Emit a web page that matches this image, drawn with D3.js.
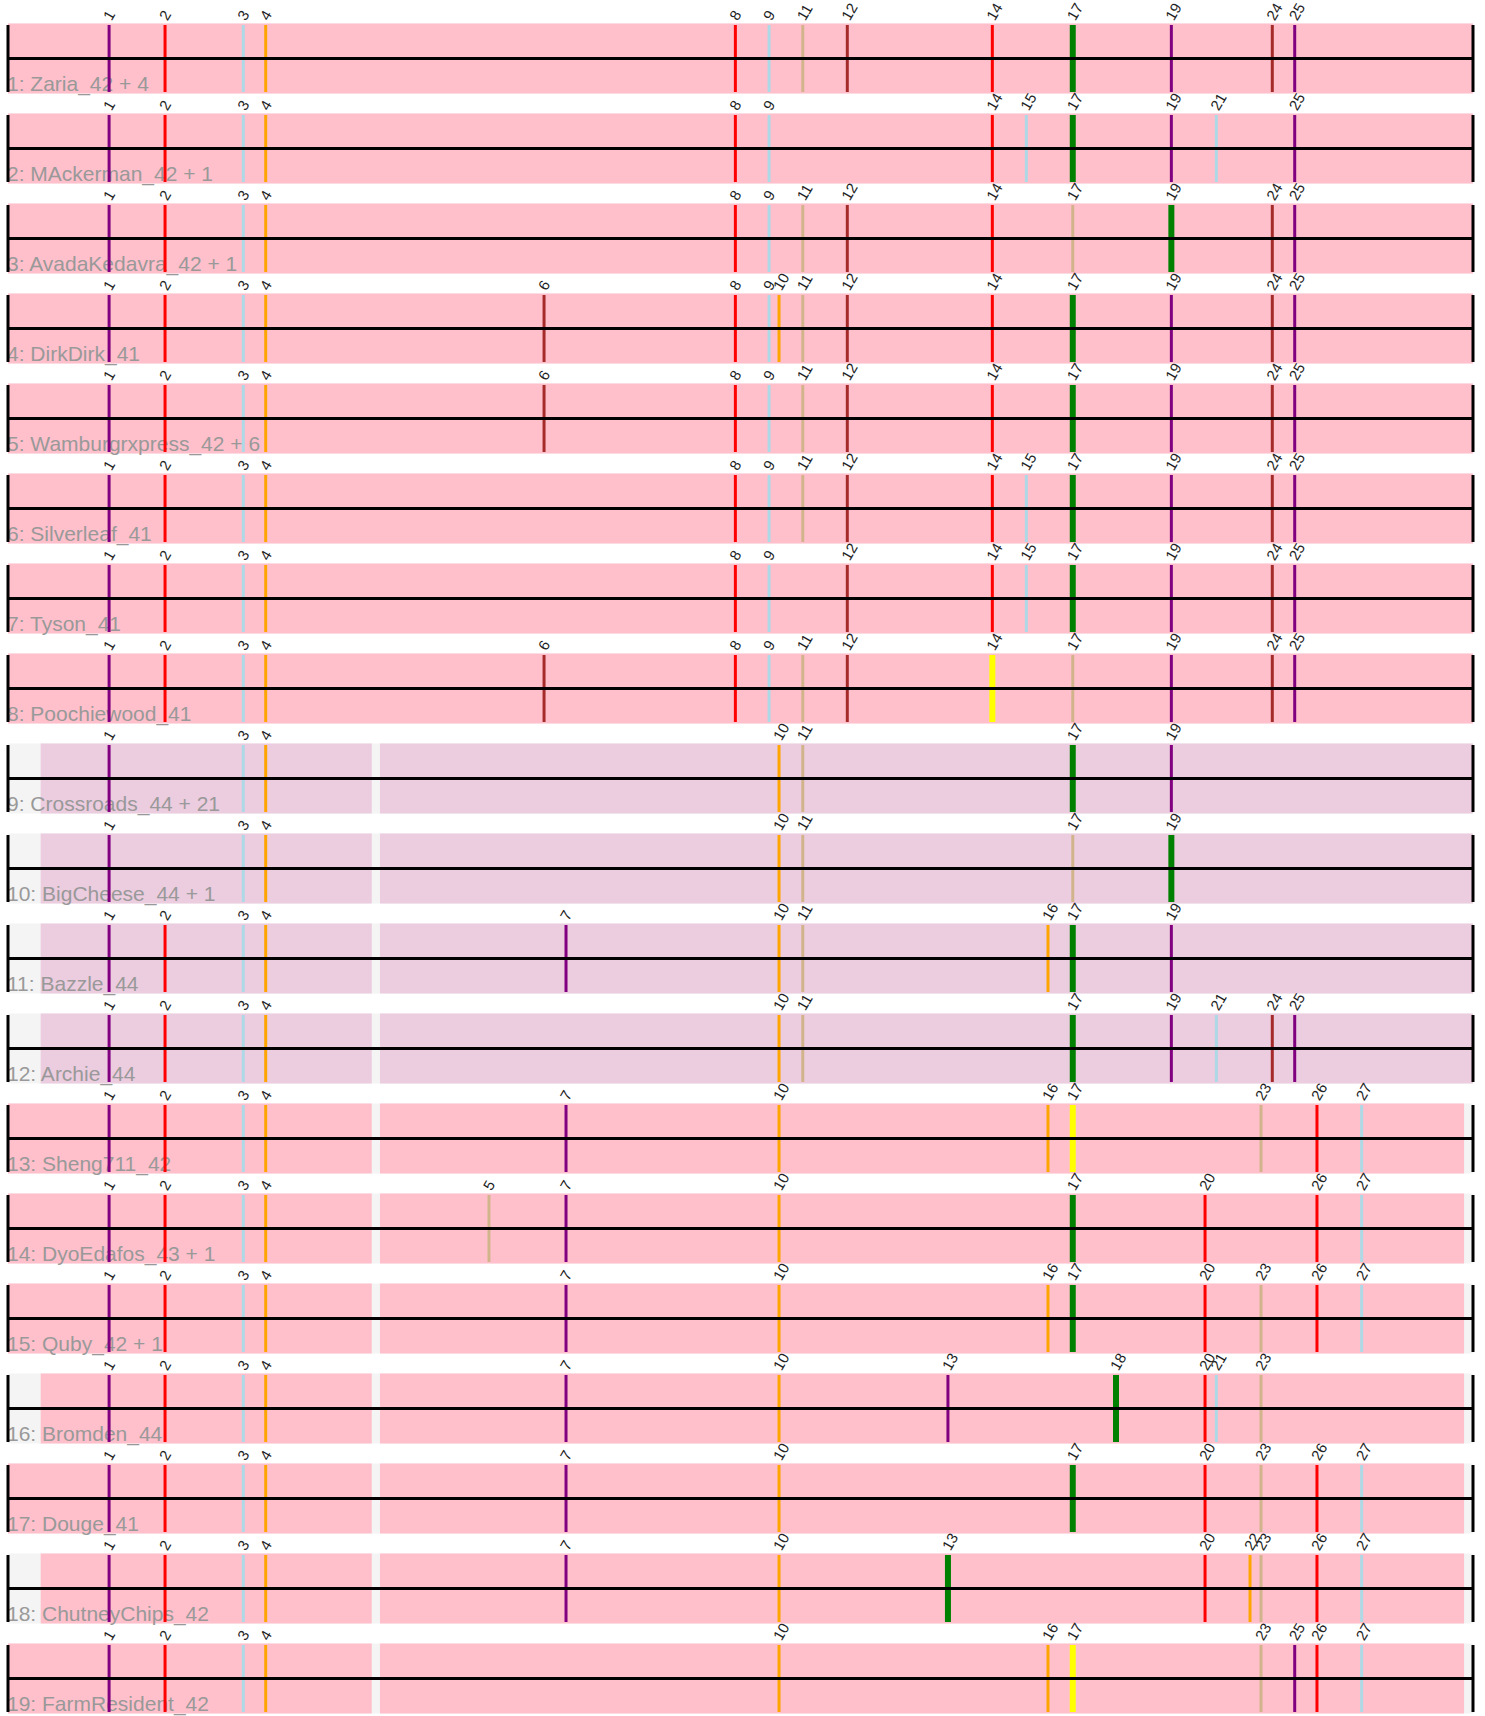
<!DOCTYPE html>
<html lang="en">
<head>
    <meta charset="UTF-8">
    <script src="https://cdn.jsdelivr.net/npm/d3@7.8.5/dist/d3.min.js"></script>
    <title>Tracks</title>
    <style>
        body { margin: 0; background: #fff; }
        .rowlabel { font-family: "Liberation Sans", Arial, sans-serif; font-size: 21px; fill: #999; }
        .ticklabel { font-family: "Liberation Sans", Arial, sans-serif; font-size: 15px; fill: #222; }
    </style>
</head>
<body onload="main()">
    <svg width="1485" height="1716"></svg>
    <script type="text/javascript">
        // positions of the 27 markers along the track (track length = 1000)
        var markerPos = [69, 107.2, 160.6, 175.9, 328.3, 365.9, 380.9, 496.5, 519.5, 526.3,
            542.5, 572.9, 641.6, 671.9, 695.1, 709.9, 726.8, 756.3, 794.1, 817.1,
            824.8, 847.8, 855.3, 863.0, 878.3, 893.5, 924.0];
        // marker colours cycle through six colours
        var markerColors = ["purple", "red", "lightblue", "orange", "tan", "brown"];

        var rowNames = ["1: Zaria_42 + 4", "2: MAckerman_42 + 1", "3: AvadaKedavra_42 + 1",
            "4: DirkDirk_41", "5: Wamburgrxpress_42 + 6", "6: Silverleaf_41", "7: Tyson_41",
            "8: Poochiewood_41", "9: Crossroads_44 + 21", "10: BigCheese_44 + 1", "11: Bazzle_44",
            "12: Archie_44", "13: Sheng711_42", "14: DyoEdafos_43 + 1", "15: Quby_42 + 1",
            "16: Bromden_44", "17: Douge_41", "18: ChutneyChips_42", "19: FarmResident_42"];

        var rowMarkers = [
            [1, 2, 3, 4, 8, 9, 11, 12, 14, 17, 19, 24, 25],
            [1, 2, 3, 4, 8, 9, 14, 15, 17, 19, 21, 25],
            [1, 2, 3, 4, 8, 9, 11, 12, 14, 17, 19, 24, 25],
            [1, 2, 3, 4, 6, 8, 9, 10, 11, 12, 14, 17, 19, 24, 25],
            [1, 2, 3, 4, 6, 8, 9, 11, 12, 14, 17, 19, 24, 25],
            [1, 2, 3, 4, 8, 9, 11, 12, 14, 15, 17, 19, 24, 25],
            [1, 2, 3, 4, 8, 9, 12, 14, 15, 17, 19, 24, 25],
            [1, 2, 3, 4, 6, 8, 9, 11, 12, 14, 17, 19, 24, 25],
            [1, 3, 4, 10, 11, 17, 19],
            [1, 3, 4, 10, 11, 17, 19],
            [1, 2, 3, 4, 7, 10, 11, 16, 17, 19],
            [1, 2, 3, 4, 10, 11, 17, 19, 21, 24, 25],
            [1, 2, 3, 4, 7, 10, 16, 17, 23, 26, 27],
            [1, 2, 3, 4, 5, 7, 10, 17, 20, 26, 27],
            [1, 2, 3, 4, 7, 10, 16, 17, 20, 23, 26, 27],
            [1, 2, 3, 4, 7, 10, 13, 18, 20, 21, 23],
            [1, 2, 3, 4, 7, 10, 17, 20, 23, 26, 27],
            [1, 2, 3, 4, 7, 10, 13, 20, 22, 23, 26, 27],
            [1, 2, 3, 4, 10, 16, 17, 23, 25, 26, 27]
        ];

        // highlighted marker per row and its colour
        var rowHighlight = [17, 17, 19, 17, 17, 17, 17, 14, 17, 19, 17, 17, 17, 17, 17, 18, 17, 13, 17];
        var rowHighlightColor = ["green", "green", "green", "green", "green", "green", "green", "yellow",
            "green", "green", "green", "green", "yellow", "green", "green", "green", "green", "green", "yellow"];

        // covered segments per row
        var segFull = [[0, 1000]];
        var segGapA = [[22.3, 248.3], [253.9, 1000]];
        var segGapB = [[0, 248.3], [253.9, 993.9]];
        var segGapC = [[22.3, 248.3], [253.9, 993.9]];
        var rowSegments = [segFull, segFull, segFull, segFull, segFull, segFull, segFull, segFull,
            segGapA, segGapA, segGapA, segGapA,
            segGapB, segGapB, segGapB, segGapC, segGapB, segGapC, segGapB];
        var rowFill = ["pink", "pink", "pink", "pink", "pink", "pink", "pink", "pink",
            "#ecccdf", "#ecccdf", "#ecccdf", "#ecccdf",
            "pink", "pink", "pink", "pink", "pink", "pink", "pink"];

        function main() {
            var svg = d3.select("svg");
            var n = rowNames.length;
            var x = d3.scaleLinear().domain([0, 1000]).range([8, 1473]);
            // 90px per row, 70px band, 20px gap
            var y = d3.scaleBand().domain(d3.range(n)).range([23.5, 23.5 + 90 * n - 20]).paddingInner(20 / 90);
            var bh = y.bandwidth();

            var rows = svg.selectAll(".row")
                .data(rowNames)
                .enter().append("g")
                .attr("class", "row")
                .attr("transform", function(d, i) { return "translate(0," + y(i) + ")"; });

            // grey background
            rows.append("rect")
                .attr("x", x(0)).attr("width", x(1000) - x(0))
                .attr("y", 0).attr("height", bh)
                .attr("fill", "#f4f4f4");

            // covered segments
            rows.each(function(d, i) {
                d3.select(this).selectAll(".seg")
                    .data(rowSegments[i])
                    .enter().append("rect")
                    .attr("class", "seg")
                    .attr("x", function(s) { return x(s[0]); })
                    .attr("width", function(s) { return x(s[1]) - x(s[0]); })
                    .attr("y", 0).attr("height", bh)
                    .attr("fill", rowFill[i]);
            });

            // row labels
            rows.append("text")
                .attr("class", "rowlabel")
                .attr("x", 7).attr("y", bh - 3)
                .text(function(d) { return d; });

            // markers
            rows.each(function(d, i) {
                var g = d3.select(this);
                var m = g.selectAll(".mk")
                    .data(rowMarkers[i])
                    .enter().append("g")
                    .attr("class", "mk");
                m.append("line")
                    .attr("x1", function(k) { return x(markerPos[k - 1]); })
                    .attr("x2", function(k) { return x(markerPos[k - 1]); })
                    .attr("y1", 1.5).attr("y2", bh - 1.5)
                    .attr("stroke", function(k) {
                        return k === rowHighlight[i] ? rowHighlightColor[i] : markerColors[(k - 1) % 6];
                    })
                    .attr("stroke-width", function(k) { return k === rowHighlight[i] ? 6 : 3; });
                m.append("text")
                    .attr("class", "ticklabel")
                    .attr("transform", function(k) {
                        return "translate(" + (x(markerPos[k - 1]) + 2.5) + "," + (-2) + ") rotate(-60)";
                    })
                    .text(function(k) { return k; });
            });

            // centre line and end bars
            rows.append("line")
                .attr("x1", x(0)).attr("x2", x(1000))
                .attr("y1", bh / 2).attr("y2", bh / 2)
                .attr("stroke", "black").attr("stroke-width", 3);
            rows.selectAll(".endbar")
                .data([0, 1000])
                .enter().append("line")
                .attr("class", "endbar")
                .attr("x1", function(v) { return x(v); })
                .attr("x2", function(v) { return x(v); })
                .attr("y1", 1.5).attr("y2", bh - 1.5)
                .attr("stroke", "black").attr("stroke-width", 3);
        }
    </script>
</body>
</html>
